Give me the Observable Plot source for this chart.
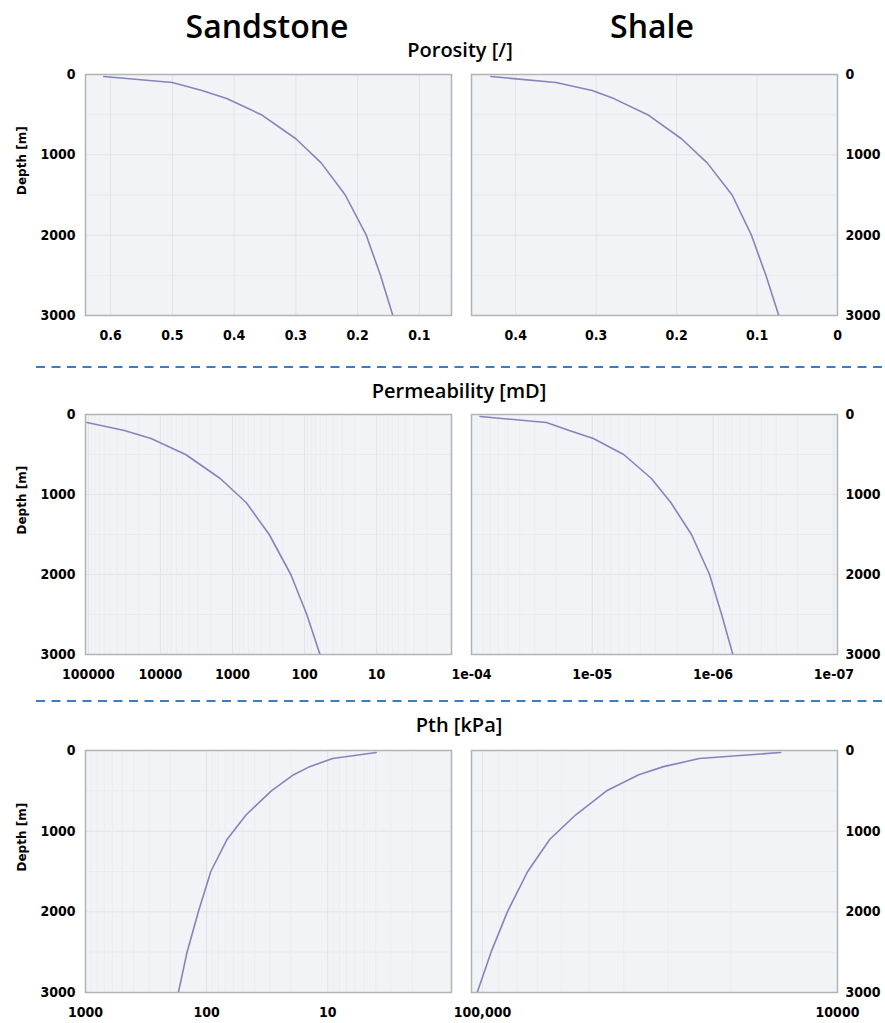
<!DOCTYPE html>
<html>
<head>
<meta charset="utf-8">
<script src="https://cdn.jsdelivr.net/npm/d3@7"></script>
<script src="https://cdn.jsdelivr.net/npm/@observablehq/plot@0.6"></script>
<style>
  body { margin: 0; background: #fff; }
  #root { position: relative; width: 885px; height: 1023px; overflow: hidden; }
  .panel { position: absolute; }
  #overlay { position: absolute; left: 0; top: 0; pointer-events: none; }
</style>
</head>
<body>
<div id="root"></div>
<script>
// ---------------- data ----------------
const depth = [25, 100, 200, 300, 500, 800, 1100, 1500, 2000, 2500, 3000];

const sandPorosity = [0.611, 0.50, 0.452, 0.412, 0.356, 0.300, 0.259, 0.220, 0.186, 0.163, 0.143];
const shalePorosity = [0.431, 0.350, 0.305, 0.278, 0.236, 0.194, 0.162, 0.131, 0.107, 0.089, 0.073];

const sandPermeability = [null, 104700, 31600, 13500, 4470, 1480, 646, 309, 155, 93, 61];
const shalePermeability = [8.5e-5, 2.4e-5, 1.55e-5, 9.8e-6, 5.5e-6, 3.24e-6, 2.24e-6, 1.51e-6, 1.07e-6, 8.5e-7, 6.86e-7];

const sandPth = [3.98, 9.1, 14.1, 19.1, 29.2, 47.3, 67.6, 92.3, 117, 145, 171];
const shalePth = [14450, 24500, 30900, 36300, 44700, 54700, 64600, 74600, 85100, 94600, 103500];

const depthTicks = [0, 1000, 2000, 3000];

const sandPorosityTicks = [0.6, 0.5, 0.4, 0.3, 0.2, 0.1];
const sandPorosityLabels = ["0.6", "0.5", "0.4", "0.3", "0.2", "0.1"];
const shalePorosityTicks = [0.4, 0.3, 0.2, 0.1, 0];
const shalePorosityLabels = ["0.4", "0.3", "0.2", "0.1", "0"];

const sandPermTicks = [100000, 10000, 1000, 100, 10];
const sandPermLabels = ["100000", "10000", "1000", "100", "10"];
const shalePermTicks = [1e-4, 1e-5, 1e-6, 1e-7];
const shalePermLabels = ["1e-04", "1e-05", "1e-06", "1e-07"];

const sandPthTicks = [1000, 100, 10];
const sandPthLabels = ["1000", "100", "10"];
const shalePthTicks = [100000, 10000];
const shalePthLabels = ["100,000", "10000"];

const columnTitles = ["Sandstone", "Shale"];
const rowTitles = ["Porosity [/]", "Permeability [mD]", "Pth [kPa]"];
const depthLabel = "Depth [m]";

// ---------------- layout ----------------
const root = document.getElementById("root");
const rows = [
  {top: 74, bottom: 315},
  {top: 414, bottom: 654},
  {top: 750, bottom: 992}
];
const cols = [
  {left: 0, width: 461, mL: 85, mR: 10, side: "left"},
  {left: 461, width: 424, mL: 10, mR: 48, side: "right"}
];
const FONT = '"DejaVu Sans Condensed", "DejaVu Sans", sans-serif';

function minorLog(domain) {
  const lo = Math.min(...domain), hi = Math.max(...domain);
  const out = [];
  for (let e = Math.floor(Math.log10(lo)) - 1; e <= Math.ceil(Math.log10(hi)); e++) {
    for (let m = 2; m <= 9; m++) {
      const v = m * Math.pow(10, e);
      if (v > lo && v < hi) out.push(v);
    }
  }
  return out;
}

function panel(rowIdx, colIdx, values, xOpts, ticks, labels) {
  const r = rows[rowIdx], c = cols[colIdx];
  const mT = 8, mB = 34;
  const height = mT + (r.bottom - r.top) + mB;
  const data = depth.map((d, i) => ({depth: d, value: values[i]})).filter(d => d.value != null);
  const isLog = xOpts.type === "log";
  const lo = Math.min(...xOpts.domain), hi = Math.max(...xOpts.domain);
  const marks = [
    Plot.frame({fill: "#f2f3f6", stroke: "none"}),
    Plot.ruleY([500, 1500, 2500], {stroke: "#e9ebef", strokeWidth: 1}),
    Plot.ruleY([1000, 2000], {stroke: "#e0e3e8", strokeWidth: 1})
  ];
  if (isLog) marks.push(Plot.ruleX(minorLog(xOpts.domain), {stroke: "#ebedf1", strokeWidth: 1}));
  marks.push(
    Plot.ruleX(ticks.filter(t => t > lo && t < hi), {stroke: "#e0e3e8", strokeWidth: 1}),
    Plot.frame({stroke: "#b3b3b3", strokeWidth: 1.5}),
    Plot.line(data, {x: "value", y: "depth", stroke: "#8585bc", strokeWidth: 1.6, clip: true})
  );
  if (c.side === "left") {
    marks.push(Plot.text([depthLabel], {
      frameAnchor: "left", dx: -63, rotate: -90,
      fontWeight: "bold", fontSize: 12, fill: "#000",
      fontFamily: '"DejaVu Sans", sans-serif'
    }));
  }
  const plot = Plot.plot({
    width: c.width,
    height,
    marginLeft: c.mL,
    marginRight: c.mR,
    marginTop: mT,
    marginBottom: mB,
    style: {fontFamily: FONT, fontSize: "14px", fontWeight: "bold", color: "#000", background: "transparent", overflow: "visible"},
    x: {
      ...xOpts,
      ticks,
      tickFormat: d => labels[ticks.indexOf(d)],
      tickSize: 0,
      tickPadding: 15,
      label: null
    },
    y: {
      domain: [0, 3000],
      reverse: true,
      axis: c.side,
      ticks: depthTicks,
      tickFormat: d => String(d),
      tickSize: 0,
      tickPadding: c.side === "left" ? 10 : 8,
      label: null
    },
    marks
  });
  plot.classList.add("panel");
  plot.style.position = "absolute";
  plot.style.left = c.left + "px";
  plot.style.top = (r.top - mT) + "px";
  root.appendChild(plot);
}

panel(0, 0, sandPorosity, {type: "linear", domain: [0.6406, 0.048]}, sandPorosityTicks, sandPorosityLabels);
panel(0, 1, shalePorosity, {type: "linear", domain: [0.455, 0]}, shalePorosityTicks, shalePorosityLabels);
panel(1, 0, sandPermeability, {type: "log", domain: [Math.pow(10, 5.04), Math.pow(10, -0.04)]}, sandPermTicks, sandPermLabels);
panel(1, 1, shalePermeability, {type: "log", domain: [1e-4, Math.pow(10, -7.03)]}, shalePermTicks, shalePermLabels);
panel(2, 0, sandPth, {type: "log", domain: [1000, 0.95]}, sandPthTicks, sandPthLabels);
panel(2, 1, shalePth, {type: "log", domain: [Math.pow(10, 5.031), 10000]}, shalePthTicks, shalePthLabels);

// ---------------- overlay titles and separators ----------------
const ns = "http://www.w3.org/2000/svg";
const ov = document.createElementNS(ns, "svg");
ov.setAttribute("id", "overlay");
ov.setAttribute("width", 885);
ov.setAttribute("height", 1023);
function addText(str, x, y, size) {
  const t = document.createElementNS(ns, "text");
  t.setAttribute("x", x);
  t.setAttribute("y", y);
  t.setAttribute("text-anchor", "middle");
  t.setAttribute("font-family", '"Open Sans", sans-serif');
  t.setAttribute("font-size", size);
  t.setAttribute("font-weight", 600);
  t.setAttribute("fill", "#000");
  t.textContent = str;
  ov.appendChild(t);
}
addText(columnTitles[0], 267, 38, 32);
addText(columnTitles[1], 652, 38, 32);
addText(rowTitles[0], 460, 57, 20);
addText(rowTitles[1], 459, 398, 20);
addText(rowTitles[2], 459, 732, 20);
[367, 701].forEach(y => {
  const l = document.createElementNS(ns, "line");
  l.setAttribute("x1", 36);
  l.setAttribute("x2", 885);
  l.setAttribute("y1", y);
  l.setAttribute("y2", y);
  l.setAttribute("stroke", "#3b7dc5");
  l.setAttribute("stroke-width", 2);
  l.setAttribute("stroke-dasharray", "9 6.5");
  ov.appendChild(l);
});
root.appendChild(ov);
</script>
</body>
</html>
